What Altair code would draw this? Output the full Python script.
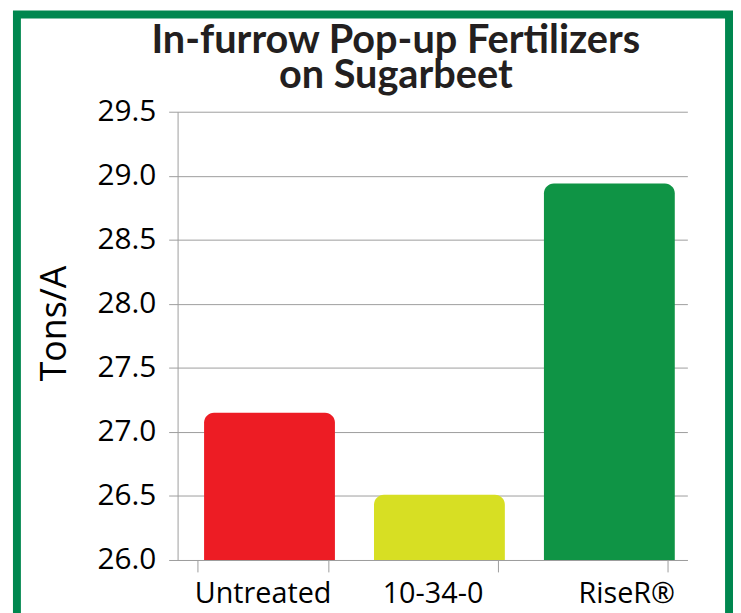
import altair as alt
import pandas as pd

categories = ["Untreated", "10-34-0", "RiseR®"]
values = [27.15, 26.51, 28.94]
colors = ["#ed1c24", "#d7df23", "#0f9445"]
y_ticks = [26.0, 26.5, 27.0, 27.5, 28.0, 28.5, 29.0, 29.5]

df = pd.DataFrame({"cat": categories, "val": values, "base": [26.0] * len(categories)})
frame_df = pd.DataFrame({"k": [0]})

W, H = 514, 452
GRAY = "#9d9d9d"

frame = alt.Chart(frame_df).mark_rect(
    filled=False, stroke="#00874f", strokeWidth=8
).encode(
    x=alt.value(-162), x2=alt.value(556), y=alt.value(-98), y2=alt.value(700)
)

bars = alt.Chart(df).mark_bar(
    cornerRadiusTopLeft=10, cornerRadiusTopRight=10, xOffset=7
).encode(
    x=alt.X("cat:N", sort=categories,
            scale=alt.Scale(paddingInner=0.23, paddingOuter=0.115),
            axis=alt.Axis(title=None, labelAngle=0, tickBand="extent",
                          labelFont="Open Sans", labelFontSize=29, labelColor="#000000",
                          labelBaseline="alphabetic", labelPadding=31,
                          labelOffset={"condition": {"test": "datum.value === 'RiseR®'", "value": 24}, "value": 0},
                          tickSize=12, tickColor=GRAY, domainColor=GRAY, grid=False)),
    y=alt.Y("val:Q", scale=alt.Scale(domain=[26.0, 29.5], zero=False, nice=False),
            axis=alt.Axis(title="Tons/A", values=y_ticks, format=".1f",
                          labelFont="Open Sans", labelFontSize=30, labelColor="#000000",
                          labelPadding=13, tickSize=9, tickColor=GRAY,
                          domainColor=GRAY, gridColor=GRAY,
                          titleFont="Open Sans", titleFontSize=36, titleFontWeight="normal",
                          titleColor="#000000", titlePadding=24, titleY=213)),
    y2="base:Q",
    color=alt.Color("cat:N", scale=alt.Scale(domain=categories, range=colors), legend=None),
)

chart = alt.layer(frame, bars).properties(
    width=W, height=H,
    title=alt.TitleParams(
        text=["In-furrow Pop-up Fertilizers", "on Sugarbeet"],
        font="Lato", fontSize=40, fontWeight="bold", color="#231f20",
        anchor="middle", dx=-37, lineHeight=35, baseline="alphabetic", offset=-118,
    ),
    autosize=alt.AutoSizeParams(type="none"),
    padding={"left": 171, "top": 102, "right": 46, "bottom": 66},
    background="white",
).configure_view(strokeWidth=0)

chart.save("out.html", embed_options={"renderer": "svg", "actions": False})
